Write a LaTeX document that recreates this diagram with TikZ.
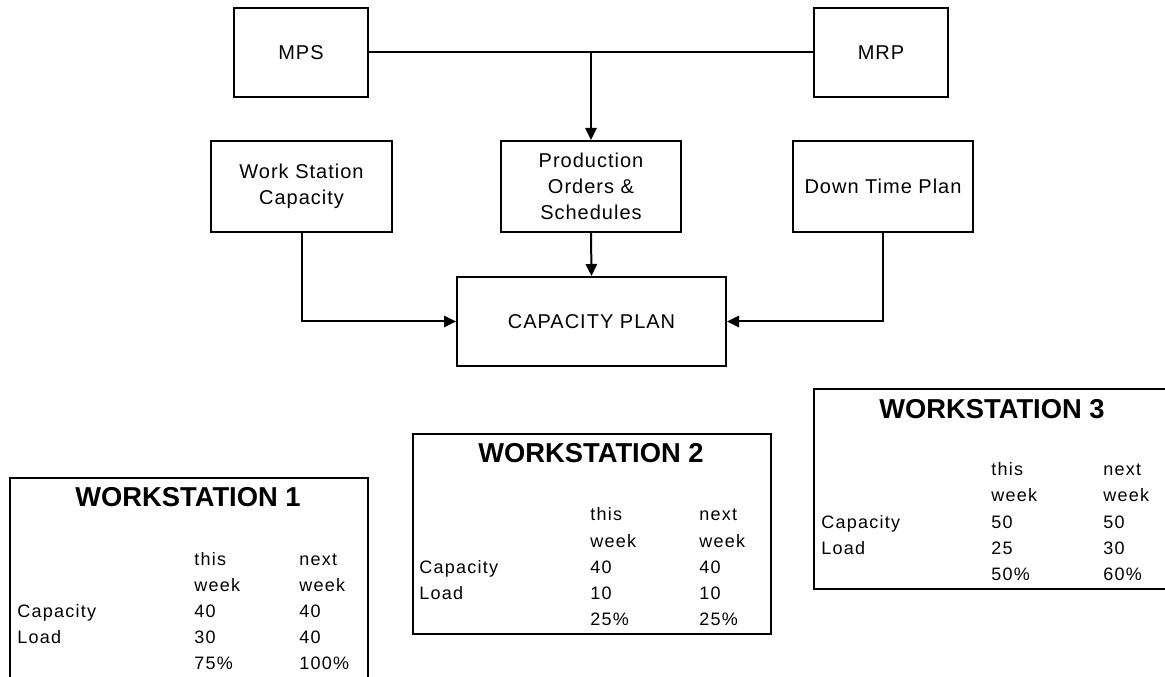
\documentclass[tikz,border=0pt]{standalone}
\usepackage{fontspec}
\setmainfont{Liberation Sans}
\usetikzlibrary{arrows.meta}
\begin{document}
\begin{tikzpicture}[x=0.75pt,y=-0.75pt,
  box/.style={draw,line width=1.5pt,inner sep=0pt,align=center,font=\addfontfeatures{LetterSpace=5}\fontsize{15}{19.5}\selectfont},
  conn/.style={line width=1.5pt},
  arr/.style={conn,-{Triangle[length=9pt,width=8.5pt]}},
  wsframe/.style={draw,line width=1.5pt,anchor=north west,minimum width=268.5pt,minimum height=150pt,inner sep=0pt},
  wstitle/.style={anchor=base,inner sep=0pt,font=\bfseries\fontsize{20.5}{24}\selectfont},
  cell/.style={anchor=base west,inner sep=0pt,font=\addfontfeatures{LetterSpace=7}\fontsize{13.5}{16}\selectfont}]
\useasboundingbox (0,0) rectangle (1165,677);
\clip (0,0) rectangle (1165,677);
% top flow chart
\node[box,minimum width=100.5pt,minimum height=66.75pt] (mps) at (301,52.5) {MPS};
\node[box,minimum width=100.5pt,minimum height=66.75pt] (mrp) at (881,52.5) {MRP};
\node[box,minimum width=135.75pt,minimum height=68.25pt] (wsc) at (301.5,186.5) {Work Station\\Capacity};
\node[box,minimum width=135pt,minimum height=68.25pt] (poc) at (591,186.5) {Production\\Orders \&\\Schedules};
\node[box,minimum width=135pt,minimum height=68.25pt] (dtp) at (883,186.5) {Down Time Plan};
\node[box,minimum width=201.75pt,minimum height=66.75pt] (cap) at (591.5,321.5) {CAPACITY PLAN};
\coordinate (j) at (poc.north |- mps.east);
\draw[conn] (mps.east) -- (mrp.west);
\draw[arr] (j) -- (poc.north);
\draw[arr] (poc.south) -- (cap.north);
\draw[arr] (wsc.south) |- (cap.west);
\draw[arr] (dtp.south) |- (cap.east);
% workstation 1
\node[wsframe] (w1) at (9,477) {};
\begin{scope}[shift={(9,477)}]
\node[wstitle] (w1t) at (179,30) {WORKSTATION 1};
\node[cell] (w1a) at (185,88) {this};
\node[cell] (w1b) at (290,88) {next};
\node[cell] (w1c) at (185,114) {week};
\node[cell] (w1d) at (290,114) {week};
\node[cell] (w1e) at (8,140) {Capacity};
\node[cell] (w1f) at (185,140) {40};
\node[cell] (w1g) at (290,140) {40};
\node[cell] (w1h) at (8,166) {Load};
\node[cell] (w1i) at (185,166) {30};
\node[cell] (w1j) at (290,166) {40};
\node[cell] (w1k) at (185,192) {75\%};
\node[cell] (w1l) at (290,192) {100\%};
\end{scope}
% workstation 2
\node[wsframe] (w2) at (412,433) {};
\begin{scope}[shift={(412,433)}]
\node[wstitle] (w2t) at (179,30) {WORKSTATION 2};
\node[cell] (w2a) at (178,88) {this};
\node[cell] (w2b) at (287,88) {next};
\node[cell] (w2c) at (178,114) {week};
\node[cell] (w2d) at (287,114) {week};
\node[cell] (w2e) at (7,140) {Capacity};
\node[cell] (w2f) at (178,140) {40};
\node[cell] (w2g) at (287,140) {40};
\node[cell] (w2h) at (7,166) {Load};
\node[cell] (w2i) at (178,166) {10};
\node[cell] (w2j) at (287,166) {10};
\node[cell] (w2k) at (178,192) {25\%};
\node[cell] (w2l) at (287,192) {25\%};
\end{scope}
% workstation 3
\node[wsframe] (w3) at (813,388) {};
\begin{scope}[shift={(813,388)}]
\node[wstitle] (w3t) at (179,31) {WORKSTATION 3};
\node[cell] (w3a) at (178,88) {this};
\node[cell] (w3b) at (290,88) {next};
\node[cell] (w3c) at (178,114) {week};
\node[cell] (w3d) at (290,114) {week};
\node[cell] (w3e) at (8,140) {Capacity};
\node[cell] (w3f) at (178,140) {50};
\node[cell] (w3g) at (290,140) {50};
\node[cell] (w3h) at (8,166) {Load};
\node[cell] (w3i) at (178,166) {25};
\node[cell] (w3j) at (290,166) {30};
\node[cell] (w3k) at (178,192) {50\%};
\node[cell] (w3l) at (290,192) {60\%};
\end{scope}
\end{tikzpicture}
\end{document}
